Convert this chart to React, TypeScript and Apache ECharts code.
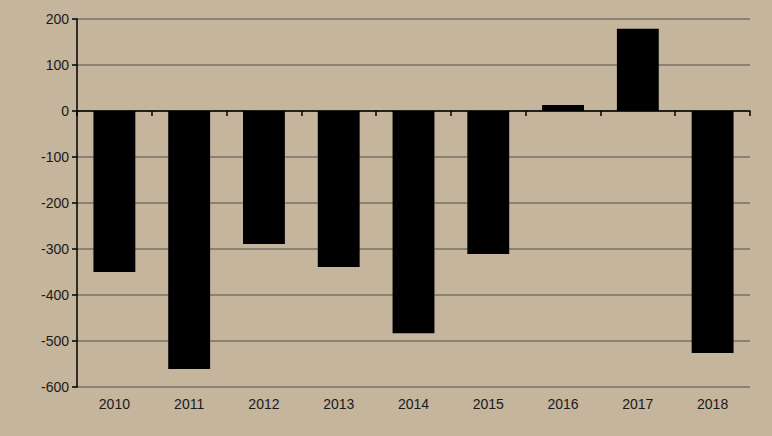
import React, { useEffect, useRef } from "react";
import * as echarts from "echarts";

const categories = ["2010", "2011", "2012", "2013", "2014", "2015", "2016", "2017", "2018"];
const values = [-350, -561, -289, -339, -483, -311, 13, 179, -526];
const yMin = -600;
const yMax = 200;
const yInterval = 100;

export default function App() {
  const ref = useRef<HTMLDivElement>(null);
  useEffect(() => {
    if (!ref.current) return;
    const chart = echarts.init(ref.current, undefined, { renderer: "svg" });
    chart.setOption({
      animation: false,
      backgroundColor: "#c4b59c",
      textStyle: { fontFamily: "Liberation Sans, Arial, sans-serif" },
      grid: { left: 77, right: 22, top: 19, bottom: 49, containLabel: false },
      xAxis: [
        {
          type: "category",
          data: categories,
          position: "bottom",
          axisLine: { show: false, onZero: false },
          axisTick: { show: false },
          axisLabel: { color: "#1a1a1a", fontSize: 14, margin: 10 },
          splitLine: { show: false },
        },
        {
          type: "category",
          data: categories,
          position: "bottom",
          axisLine: { show: true, onZero: true, onZeroAxisIndex: 0, lineStyle: { color: "#000", width: 1.5 } },
          axisTick: { show: true, length: 5, lineStyle: { color: "#000", width: 1.5 } },
          axisLabel: { show: false },
          splitLine: { show: false },
        },
      ],
      yAxis: {
        type: "value",
        min: yMin,
        max: yMax,
        interval: yInterval,
        axisLine: { show: true, onZero: false, lineStyle: { color: "#000", width: 1.5 } },
        axisTick: { show: true, length: 5, lineStyle: { color: "#000", width: 1.5 } },
        axisLabel: { color: "#1a1a1a", fontSize: 14, margin: 8 },
        splitLine: { show: true, lineStyle: { color: "#8a8274", width: 2 } },
      },
      series: [
        {
          type: "bar",
          data: values,
          xAxisIndex: 0,
          barWidth: "56%",
          itemStyle: { color: "#000" },
        },
      ],
    });
    return () => chart.dispose();
  }, []);
  return <div ref={ref} style={{ width: 772, height: 436, position: "absolute", left: 0, top: 0 }} />;
}
